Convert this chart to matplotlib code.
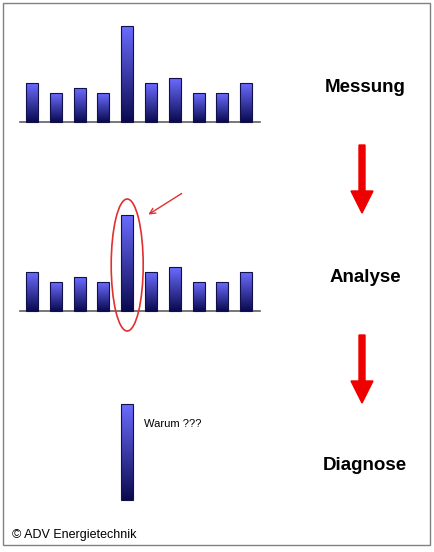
import matplotlib
matplotlib.use("Agg")
import matplotlib.pyplot as plt
import numpy as np
from matplotlib.patches import Ellipse, Rectangle, FancyArrow

heights = [39, 29, 34, 29, 96, 39, 44, 29, 29, 39]
stage_labels = ["Messung", "Analyse", "Diagnose"]
note_text = "Warum ???"
copyright_text = "\u00a9 ADV Energietechnik"

W, H = 434, 552
fig = plt.figure(figsize=(W / 100, H / 100), dpi=100)
ax = fig.add_axes([0, 0, 1, 1])
ax.set_xlim(0, W)
ax.set_ylim(H, 0)
ax.axis("off")

# frame
ax.add_patch(Rectangle((3, 3), 427, 542, fill=False, ec="#808080", lw=1))

grad = np.linspace(0, 1, 100).reshape(-1, 1)
cmap = matplotlib.colors.LinearSegmentedColormap.from_list("b", ["#6b6bff", "#0a0a50"])

def draw_bar(x, base, h, w=12):
    ax.imshow(grad, cmap=cmap, aspect="auto", extent=(x - w / 2, x + w / 2, base, base - h), zorder=2)
    ax.add_patch(Rectangle((x - w / 2, base - h), w, h, fill=False, ec="#10104a", lw=0.8, zorder=3))

x0, dx = 32, 23.8
for base in (122, 311):
    for i, h in enumerate(heights):
        draw_bar(x0 + i * dx, base, h)
    ax.plot([20, 260], [base, base], color="#606060", lw=1.2, zorder=1)

# diagnose bar
peak = int(np.argmax(heights))
draw_bar(x0 + peak * dx, 500, heights[peak])
ax.text(x0 + peak * dx + 17, 424, note_text, fontsize=8, family="Liberation Sans", va="center")

# highlight
ax.add_patch(Ellipse((x0 + peak * dx, 265), 32, 132, fill=False, ec="#e03030", lw=1.2, zorder=4))
ax.annotate("", xy=(146, 216), xytext=(184, 192),
            arrowprops=dict(arrowstyle="->", color="#e03030", lw=1))

for y, lab in zip((88, 277, 466), stage_labels):
    ax.text(365, y, lab, fontsize=13.5, fontweight="bold", family="Liberation Sans", ha="center", va="center")

for y0 in (145, 335):
    ax.add_patch(FancyArrow(362, y0, 0, 68, width=6, head_width=22, head_length=22,
                            length_includes_head=True, color="#ee0000"))

ax.text(12, 535, copyright_text, fontsize=9, family="Liberation Sans", va="center")

fig.savefig("out.png", dpi=100)
